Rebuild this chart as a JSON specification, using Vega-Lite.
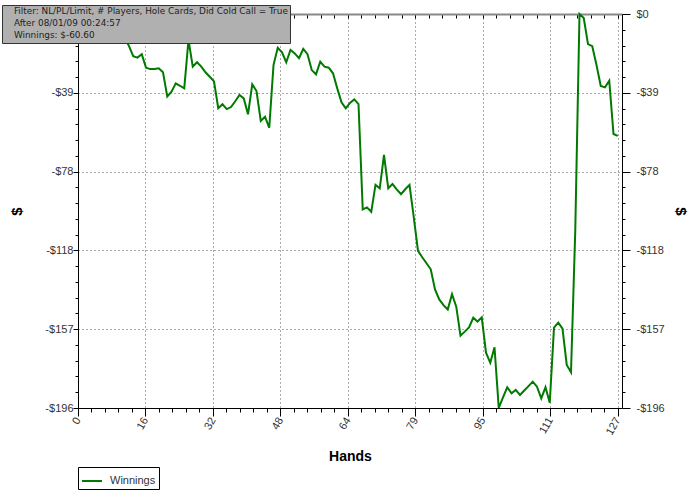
{
  "$schema": "https://vega.github.io/schema/vega-lite/v6.json",
  "width": 544,
  "height": 394,
  "autosize": "none",
  "padding": {"left": 78, "top": 14, "right": 78, "bottom": 88},
  "background": "#ffffff",
  "config": {"font": "Liberation Sans", "view": {"stroke": null}},
  "data": {"values": [
    {"hand":0,"winnings":0},{"hand":1,"winnings":-1},{"hand":2,"winnings":-0.5},{"hand":3,"winnings":-2},{"hand":4,"winnings":-1.5},{"hand":5,"winnings":-3},{"hand":6,"winnings":-2.5},{"hand":7,"winnings":-4},{"hand":8,"winnings":-3.5},{"hand":9,"winnings":-5.5},
    {"hand":10,"winnings":-8},{"hand":11,"winnings":-11.8},{"hand":12,"winnings":-16},{"hand":13,"winnings":-21},{"hand":14,"winnings":-21.7},{"hand":15,"winnings":-20},{"hand":16,"winnings":-26.7},{"hand":17,"winnings":-27.4},{"hand":18,"winnings":-27.4},{"hand":19,"winnings":-27},
    {"hand":20,"winnings":-29},{"hand":21,"winnings":-41},{"hand":22,"winnings":-38.6},{"hand":23,"winnings":-34.5},{"hand":24,"winnings":-35.7},{"hand":25,"winnings":-37},{"hand":26,"winnings":-12.9},{"hand":27,"winnings":-26.2},{"hand":28,"winnings":-24},{"hand":29,"winnings":-26.2},
    {"hand":30,"winnings":-29},{"hand":31,"winnings":-31.2},{"hand":32,"winnings":-33.5},{"hand":33,"winnings":-46.9},{"hand":34,"winnings":-44.9},{"hand":35,"winnings":-47.3},{"hand":36,"winnings":-46.3},{"hand":37,"winnings":-43.4},{"hand":38,"winnings":-40.3},{"hand":39,"winnings":-42},
    {"hand":40,"winnings":-49.9},{"hand":41,"winnings":-35},{"hand":42,"winnings":-38.3},{"hand":43,"winnings":-53.2},{"hand":44,"winnings":-51.1},{"hand":45,"winnings":-56.6},{"hand":46,"winnings":-25.4},{"hand":47,"winnings":-16.8},{"hand":48,"winnings":-19.1},{"hand":49,"winnings":-24},
    {"hand":50,"winnings":-17.9},{"hand":51,"winnings":-19.6},{"hand":52,"winnings":-22},{"hand":53,"winnings":-17.4},{"hand":54,"winnings":-20},{"hand":55,"winnings":-27.9},{"hand":56,"winnings":-30},{"hand":57,"winnings":-23.7},{"hand":58,"winnings":-26.2},{"hand":59,"winnings":-26.7},
    {"hand":60,"winnings":-29.5},{"hand":61,"winnings":-37},{"hand":62,"winnings":-43.9},{"hand":63,"winnings":-46.9},{"hand":64,"winnings":-44.2},{"hand":65,"winnings":-42.5},{"hand":66,"winnings":-44.8},{"hand":67,"winnings":-97.2},{"hand":68,"winnings":-96.2},{"hand":69,"winnings":-98.4},
    {"hand":70,"winnings":-85},{"hand":71,"winnings":-86.7},{"hand":72,"winnings":-70.1},{"hand":73,"winnings":-86.7},{"hand":74,"winnings":-84.6},{"hand":75,"winnings":-87.2},{"hand":76,"winnings":-89.6},{"hand":77,"winnings":-87.2},{"hand":78,"winnings":-85},{"hand":79,"winnings":-101},
    {"hand":80,"winnings":-117.8},{"hand":81,"winnings":-121},{"hand":82,"winnings":-124},{"hand":83,"winnings":-127},{"hand":84,"winnings":-137},{"hand":85,"winnings":-142},{"hand":86,"winnings":-144.8},{"hand":87,"winnings":-147},{"hand":88,"winnings":-139.4},{"hand":89,"winnings":-145.6},
    {"hand":90,"winnings":-160},{"hand":91,"winnings":-158},{"hand":92,"winnings":-155.9},{"hand":93,"winnings":-151.1},{"hand":94,"winnings":-153},{"hand":95,"winnings":-150.9},{"hand":96,"winnings":-168.5},{"hand":97,"winnings":-173.5},{"hand":98,"winnings":-165.8},{"hand":99,"winnings":-196},
    {"hand":100,"winnings":-190.7},{"hand":101,"winnings":-185.7},{"hand":102,"winnings":-188.7},{"hand":103,"winnings":-187},{"hand":104,"winnings":-189.5},{"hand":105,"winnings":-187.3},{"hand":106,"winnings":-185.1},{"hand":107,"winnings":-182.9},{"hand":108,"winnings":-185.4},{"hand":109,"winnings":-191.2},
    {"hand":110,"winnings":-185.7},{"hand":111,"winnings":-193.4},{"hand":112,"winnings":-156},{"hand":113,"winnings":-153.5},{"hand":114,"winnings":-156.5},{"hand":115,"winnings":-174.6},{"hand":116,"winnings":-178.2},{"hand":117,"winnings":-108},{"hand":118,"winnings":0},{"hand":119,"winnings":-2},
    {"hand":120,"winnings":-15},{"hand":121,"winnings":-16},{"hand":122,"winnings":-25.4},{"hand":123,"winnings":-35.8},{"hand":124,"winnings":-36.5},{"hand":125,"winnings":-33.2},{"hand":126,"winnings":-59.7},{"hand":127,"winnings":-60.6}
  ]},
  "layer": [
    {
      "mark": {"type": "line", "strokeWidth": 2, "clip": false},
      "encoding": {
        "x": {
          "field": "hand", "type": "quantitative",
          "scale": {"domain": [0, 128], "nice": false, "zero": false},
          "axis": {
            "orient": "bottom",
            "values": [0,3.175,6.35,9.525,12.7,15.875,19.05,22.225,25.4,28.575,31.75,34.925,38.1,41.275,44.45,47.625,50.8,53.975,57.15,60.325,63.5,66.675,69.85,73.025,76.2,79.375,82.55,85.725,88.9,92.075,95.25,98.425,101.6,104.775,107.95,111.125,114.3,117.475,120.65,123.825,127],
            "labelExpr": "abs(datum.value/15.875 - round(datum.value/15.875)) < 0.01 ? '' + round(datum.value) : ''",
            "labelOverlap": false, "labelBound": false, "labelFlush": false,
            "labelAngle": -60, "labelFontSize": 11, "labelColor": "#333333", "labelPadding": 2,
            "tickColor": "#000000",
            "tickSize": {"condition": {"test": "abs(datum.value/15.875 - round(datum.value/15.875)) < 0.01", "value": 8}, "value": 4},
            "domainColor": "#000000",
            "grid": true, "gridDash": [1, 3], "gridColor": "#555555",
            "gridOpacity": {"condition": {"test": "abs(datum.value/15.875 - round(datum.value/15.875)) < 0.01", "value": 1}, "value": 0},
            "title": "Hands", "titleFontSize": 14, "titleFontWeight": "bold", "titleColor": "#000000",
            "titleY": 52, "titleBaseline": "alphabetic"
          }
        },
        "y": {
          "field": "winnings", "type": "quantitative",
          "scale": {"domain": [-196, 0], "nice": false, "zero": false},
          "axis": {
            "orient": "left",
            "values": [-196,-188.16,-180.32,-172.48,-164.64,-156.8,-148.96,-141.12,-133.28,-125.44,-117.6,-109.76,-101.92,-94.08,-86.24,-78.4,-70.56,-62.72,-54.88,-47.04,-39.2,-31.36,-23.52,-15.68,-7.84,0],
            "labelExpr": "abs(datum.value/39.2 - round(datum.value/39.2)) < 0.01 && datum.value < -0.5 ? '-$' + round(-datum.value) : ''",
            "labelOverlap": false, "labelBound": false, "labelFlush": false,
            "labelFontSize": 11, "labelColor": "#333333", "labelPadding": 0,
            "tickColor": "#000000",
            "tickSize": {"condition": {"test": "abs(datum.value/39.2 - round(datum.value/39.2)) < 0.01", "value": 5}, "value": 3},
            "domainColor": "#000000",
            "grid": true, "gridDash": [1, 3], "gridColor": "#555555",
            "gridOpacity": {"condition": {"test": "abs(datum.value/39.2 - round(datum.value/39.2)) < 0.01", "value": 1}, "value": 0},
            "title": "$", "titleFontSize": 15, "titleFontWeight": "bold", "titleColor": "#000000",
            "titleX": -62, "titleBaseline": "middle"
          }
        },
        "color": {
          "datum": "Winnings",
          "scale": {"range": ["#007a00"]},
          "legend": {
            "orient": "none", "legendX": 0, "legendY": 453, "title": null,
            "symbolType": "stroke", "symbolSize": 400, "symbolStrokeWidth": 2,
            "strokeColor": "#000000", "fillColor": "#ffffff", "padding": 3,
            "labelFontSize": 11, "labelColor": "#333333", "labelOffset": 7
          }
        }
      }
    },
    {
      "mark": {"type": "line", "opacity": 0},
      "encoding": {
        "x": {
          "field": "hand", "type": "quantitative",
          "scale": {"domain": [0, 128], "nice": false, "zero": false},
          "axis": {
            "orient": "top",
            "values": [0,3.175,6.35,9.525,12.7,15.875,19.05,22.225,25.4,28.575,31.75,34.925,38.1,41.275,44.45,47.625,50.8,53.975,57.15,60.325,63.5,66.675,69.85,73.025,76.2,79.375,82.55,85.725,88.9,92.075,95.25,98.425,101.6,104.775,107.95,111.125,114.3,117.475,120.65,123.825,127],
            "labels": false, "grid": false, "title": null,
            "tickSize": -4, "tickColor": "#000000",
            "domainColor": "#888888", "domainWidth": 2
          }
        },
        "y": {
          "field": "winnings", "type": "quantitative",
          "scale": {"domain": [-196, 0], "nice": false, "zero": false},
          "axis": {
            "orient": "right",
            "values": [-196,-188.16,-180.32,-172.48,-164.64,-156.8,-148.96,-141.12,-133.28,-125.44,-117.6,-109.76,-101.92,-94.08,-86.24,-78.4,-70.56,-62.72,-54.88,-47.04,-39.2,-31.36,-23.52,-15.68,-7.84,0],
            "labelExpr": "abs(datum.value/39.2 - round(datum.value/39.2)) < 0.01 ? (datum.value > -0.5 ? '$0' : '-$' + round(-datum.value)) : ''",
            "labelOverlap": false, "labelBound": false, "labelFlush": false,
            "labelFontSize": 11, "labelColor": "#333333", "labelPadding": 6,
            "tickColor": "#000000",
            "tickSize": {"condition": {"test": "abs(datum.value/39.2 - round(datum.value/39.2)) < 0.01", "value": 8}, "value": 3},
            "domainColor": "#000000",
            "grid": false,
            "title": "$", "titleFontSize": 15, "titleFontWeight": "bold", "titleColor": "#000000",
            "titleX": 58, "titleBaseline": "middle"
          }
        }
      }
    },
    {
      "data": {"values": [
        {"info": "Filter: NL/PL/Limit, # Players, Hole Cards, Did Cold Call = True"},
        {"info": "After 08/01/09 00:24:57"},
        {"info": "Winnings: $-60.60"}
      ]},
      "mark": {"type": "point"},
      "encoding": {
        "opacity": {"value": 0},
        "shape": {
          "field": "info", "type": "nominal",
          "scale": {"domain": ["Filter: NL/PL/Limit, # Players, Hole Cards, Did Cold Call = True", "After 08/01/09 00:24:57", "Winnings: $-60.60"]},
          "legend": {
            "orient": "none", "legendX": -76, "legendY": -9, "title": null,
            "symbolSize": 0, "symbolStrokeWidth": 0, "symbolOpacity": 0, "labelOffset": 1,
            "padding": 2, "rowPadding": 2,
            "fillColor": "#b0b0b0", "strokeColor": "#333333",
            "labelFont": "DejaVu Sans", "labelFontSize": 8.9, "labelColor": "#222222", "labelLimit": 500
          }
        }
      }
    }
  ],
  "resolve": {"scale": {"x": "independent", "y": "independent"}}
}
